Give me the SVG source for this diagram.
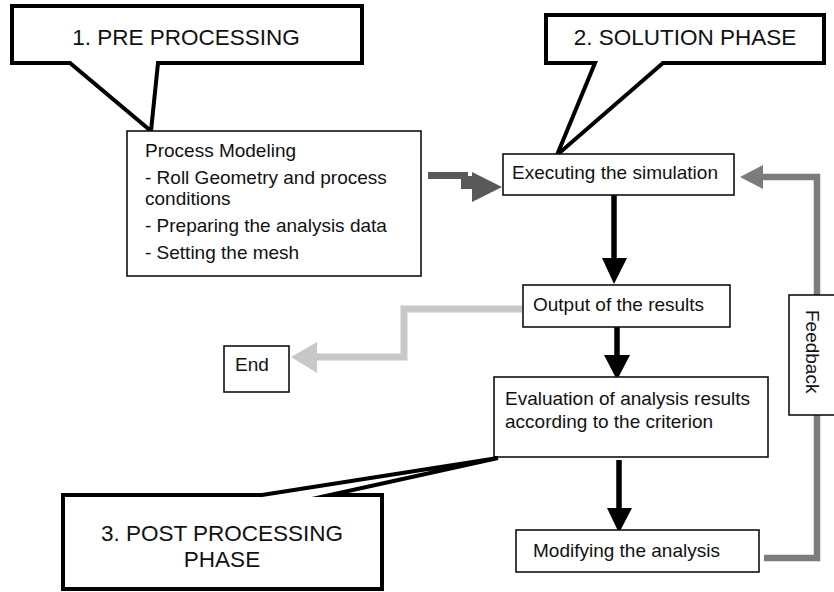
<svg xmlns="http://www.w3.org/2000/svg" width="834" height="592" viewBox="0 0 834 592">
<style>
  text { font-family: "Liberation Sans", Arial, sans-serif; fill: #111; }
  .body { font-size: 19px; }
  .call { font-size: 22.5px; }
  .box { fill: #fff; stroke: #111; stroke-width: 1.6; }
  .bubble { fill: #fff; stroke: #000; stroke-width: 4; stroke-linejoin: miter; stroke-miterlimit: 10; }
  .blk { stroke: #000; stroke-width: 5.5; fill: none; }
  .blkhead { fill: #000; }
  .fb { stroke: #7c7c7c; stroke-width: 6.5; fill: none; }
  .fbhead { fill: #7c7c7c; }
  .lg { stroke: #c8c8c8; stroke-width: 7; fill: none; }
  .lghead { fill: #c8c8c8; }
  .dg { fill: #595959; }
</style>
<rect width="834" height="592" fill="#fff"/>

<g id="connectors">
  <!-- pre-processing to execution (stepped dark arrow) -->
  <rect class="dg" x="428" y="172" width="40" height="7"/>
  <rect class="dg" x="461" y="176" width="12" height="13"/>
  <polygon class="dg" points="472,172 502,187 472,202"/>
  <!-- black downward arrows -->
  <line class="blk" x1="614" y1="195" x2="614" y2="260"/>
  <polygon class="blkhead" points="602,258 627,258 614,284"/>
  <line class="blk" x1="617" y1="327" x2="617" y2="357"/>
  <polygon class="blkhead" points="604,355 630,355 617,380"/>
  <line class="blk" x1="619" y1="460" x2="619" y2="510"/>
  <polygon class="blkhead" points="607,508 632,508 619,533"/>
  <!-- output to end (light grey) -->
  <path class="lg" d="M522,309 H404 V357 H315"/>
  <polygon class="lghead" points="317,342 291,357 317,373"/>
  <!-- feedback loop -->
  <path class="fb" d="M764,558 H817 V177 H761"/>
  <polygon class="fbhead" points="763,165 740,177 763,189"/>
</g>

<g id="callout-pre">
  <path class="bubble" d="M12,6 H362 V63 H158 L151,131 L70,63 H12 Z"/>
  <text class="call" x="186" y="45" text-anchor="middle">1. PRE PROCESSING</text>
</g>

<g id="process-modeling">
  <rect class="box" x="127" y="131" width="294" height="145"/>
  <text class="body" x="145" y="157">Process Modeling</text>
  <text class="body" x="145" y="184">- Roll Geometry and process</text>
  <text class="body" x="145" y="205">conditions</text>
  <text class="body" x="145" y="232">- Preparing the analysis data</text>
  <text class="body" x="145" y="259">- Setting the mesh</text>
</g>

<g id="callout-solution">
  <path class="bubble" d="M546,15 H824 V63 H663 L557,155 L595,63 H546 Z"/>
  <text class="call" x="685" y="45" text-anchor="middle">2. SOLUTION PHASE</text>
</g>

<g id="executing">
  <rect class="box" x="503" y="154" width="231" height="41"/>
  <text class="body" x="512" y="179">Executing the simulation</text>
</g>

<g id="output">
  <rect class="box" x="523" y="285" width="207" height="42"/>
  <text class="body" x="533" y="311">Output of the results</text>
</g>

<g id="end">
  <rect class="box" x="224" y="346" width="65" height="46"/>
  <text class="body" x="235" y="371">End</text>
</g>

<g id="evaluation">
  <rect class="box" x="494" y="377" width="274" height="80"/>
  <text class="body" x="505" y="405">Evaluation of analysis results</text>
  <text class="body" x="505" y="428">according to the criterion</text>
</g>

<g id="modifying">
  <rect class="box" x="516" y="530" width="243" height="42"/>
  <text class="body" x="533" y="557">Modifying the analysis</text>
</g>

<g id="feedback">
  <rect class="box" x="789" y="295" width="46" height="120"/>
  <text class="body" transform="translate(806,310) rotate(90)">Feedback</text>
</g>

<g id="callout-post">
  <path class="bubble" d="M63,495 H262 L498,458 L330,495 H382 V589 H63 Z"/>
  <text class="call" x="222" y="541" text-anchor="middle">3. POST PROCESSING</text>
  <text class="call" x="222" y="567" text-anchor="middle">PHASE</text>
</g>
</svg>
